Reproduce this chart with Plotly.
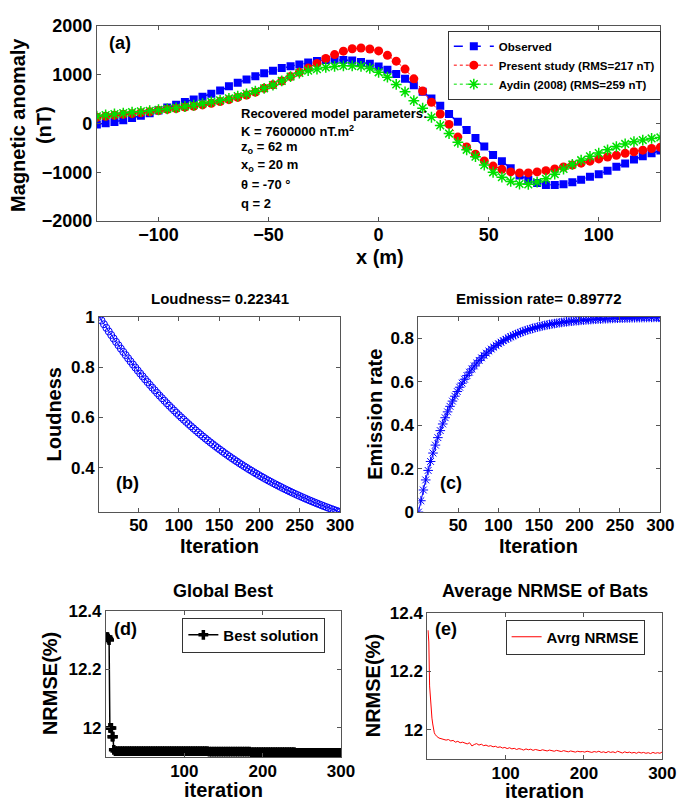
import plotly.graph_objects as go

W, H = 685, 809
FONT = "Liberation Sans, Arial, Helvetica, sans-serif"

# ---------------- Panel (a) data ----------------
x_m = list(range(-128, 129, 4))
observed = [
    -20, 5, 30, 65, 110, 160, 210, 265, 325, 385,
    440, 490, 547, 607, 673, 760, 833, 900, 967, 1027,
    1080, 1133, 1173, 1207, 1247, 1280, 1300, 1307, 1300, 1287,
    1260, 1220, 1167, 1100, 1013, 913, 780, 647, 513, 360,
    193, 33, -133, -300, -473, -647, -773, -920, -1067, -1153,
    -1220, -1260, -1260, -1247, -1207, -1153, -1093, -1040, -967, -887,
    -820, -740, -673, -613, -553]
present = [
    127, 147, 167, 187, 200, 220, 240, 265, 287, 307,
    333, 353, 380, 413, 447, 487, 533, 580, 640, 720,
    790, 870, 960, 1047, 1133, 1230, 1330, 1410, 1480, 1530,
    1545, 1525, 1485, 1395, 1275, 1113, 913, 665, 433, 193,
    -20, -280, -480, -630, -767, -873, -940, -993, -1013, -1013,
    -993, -967, -933, -893, -853, -813, -773, -727, -687, -653,
    -613, -580, -547, -513, -487]
aydin = [
    147, 173, 193, 213, 233, 247, 260, 280, 300, 320,
    347, 373, 407, 440, 473, 513, 560, 607, 660, 720,
    787, 870, 960, 1033, 1080, 1113, 1147, 1167, 1180, 1180,
    1167, 1127, 1047, 947, 800, 647, 467, 313, 127, -40,
    -207, -387, -540, -680, -853, -1000, -1100, -1187, -1240, -1247,
    -1200, -1133, -1040, -933, -840, -753, -673, -607, -540, -473,
    -420, -373, -340, -307, -287]

# ---------------- Panels (b),(c) data ----------------
it_bc = list(range(1, 299, 3)) + [300]
loudness = [
    1.0000, 0.9851, 0.9704, 0.9559, 0.9416, 0.9276, 0.9137, 0.9001, 0.8867, 0.8734,
    0.8604, 0.8475, 0.8349, 0.8224, 0.8102, 0.7981, 0.7862, 0.7744, 0.7629, 0.7515,
    0.7403, 0.7292, 0.7183, 0.7076, 0.6970, 0.6866, 0.6764, 0.6663, 0.6563, 0.6465,
    0.6369, 0.6274, 0.6180, 0.6088, 0.5997, 0.5908, 0.5820, 0.5733, 0.5647, 0.5563,
    0.5480, 0.5398, 0.5318, 0.5238, 0.5160, 0.5083, 0.5007, 0.4933, 0.4859, 0.4786,
    0.4715, 0.4645, 0.4575, 0.4507, 0.4440, 0.4373, 0.4308, 0.4244, 0.4180, 0.4118,
    0.4057, 0.3996, 0.3936, 0.3878, 0.3820, 0.3763, 0.3707, 0.3651, 0.3597, 0.3543,
    0.3490, 0.3438, 0.3387, 0.3336, 0.3287, 0.3238, 0.3189, 0.3142, 0.3095, 0.3049,
    0.3003, 0.2958, 0.2914, 0.2871, 0.2828, 0.2786, 0.2744, 0.2703, 0.2663, 0.2623,
    0.2584, 0.2545, 0.2507, 0.2470, 0.2433, 0.2397, 0.2361, 0.2326, 0.2291, 0.2257,
    0.2234]
emission = [
    0.0000, 0.0524, 0.1018, 0.1482, 0.1920, 0.2333, 0.2721, 0.3087, 0.3431, 0.3755,
    0.4061, 0.4348, 0.4619, 0.4874, 0.5115, 0.5341, 0.5554, 0.5755, 0.5944, 0.6122,
    0.6289, 0.6447, 0.6596, 0.6736, 0.6868, 0.6992, 0.7109, 0.7219, 0.7323, 0.7420,
    0.7512, 0.7599, 0.7681, 0.7757, 0.7830, 0.7898, 0.7962, 0.8023, 0.8079, 0.8133,
    0.8184, 0.8231, 0.8276, 0.8318, 0.8358, 0.8395, 0.8430, 0.8463, 0.8495, 0.8524,
    0.8552, 0.8578, 0.8602, 0.8626, 0.8647, 0.8668, 0.8687, 0.8705, 0.8723, 0.8739,
    0.8754, 0.8769, 0.8782, 0.8795, 0.8807, 0.8818, 0.8828, 0.8838, 0.8848, 0.8857,
    0.8865, 0.8873, 0.8880, 0.8887, 0.8894, 0.8900, 0.8906, 0.8911, 0.8916, 0.8921,
    0.8926, 0.8930, 0.8934, 0.8938, 0.8942, 0.8945, 0.8948, 0.8951, 0.8954, 0.8957,
    0.8959, 0.8962, 0.8964, 0.8966, 0.8968, 0.8970, 0.8972, 0.8973, 0.8975, 0.8976,
    0.8977]

# ---------------- Panels (d),(e) data ----------------
it_de = [1, 2, 3, 4, 5, 6, 7, 8, 9, 10] + list(range(12, 301, 3))
best = [
    12.31, 12.31, 12.305, 12.30, 12.00, 12.00, 12.00, 11.97, 11.97, 11.925,
    11.921, 11.921, 11.921, 11.921, 11.921, 11.921, 11.921, 11.921, 11.921, 11.921,
    11.921, 11.921, 11.921, 11.921, 11.921, 11.921, 11.921, 11.921, 11.921, 11.921,
    11.921, 11.921, 11.921, 11.921, 11.921, 11.921, 11.921, 11.921, 11.921, 11.921,
    11.921, 11.921, 11.921, 11.921, 11.921, 11.921, 11.921, 11.921, 11.921, 11.921,
    11.919, 11.919, 11.919, 11.919, 11.919, 11.919, 11.919, 11.919, 11.919, 11.919,
    11.919, 11.919, 11.919, 11.919, 11.919, 11.919, 11.919, 11.919, 11.917, 11.917,
    11.917, 11.917, 11.917, 11.917, 11.917, 11.917, 11.917, 11.917, 11.917, 11.917,
    11.917, 11.917, 11.917, 11.917, 11.917, 11.917, 11.917, 11.915, 11.915, 11.915,
    11.915, 11.915, 11.915, 11.915, 11.915, 11.915, 11.915, 11.915, 11.915, 11.915,
    11.915, 11.915, 11.915, 11.915, 11.915, 11.915, 11.915]
avg_nrmse = [
    12.34, 12.30, 12.15, 12.10, 12.07, 12.04, 12.02, 12.00, 11.99, 11.985,
    11.978, 11.972, 11.970, 11.968, 11.965, 11.967, 11.962, 11.964, 11.958, 11.961,
    11.956, 11.958, 11.955, 11.952, 11.956, 11.945, 11.950, 11.953, 11.948, 11.951,
    11.946, 11.948, 11.944, 11.946, 11.942, 11.944, 11.940, 11.942, 11.938, 11.940,
    11.936, 11.939, 11.935, 11.937, 11.933, 11.936, 11.934, 11.931, 11.935, 11.932,
    11.934, 11.930, 11.933, 11.931, 11.929, 11.932, 11.930, 11.928, 11.931, 11.929,
    11.927, 11.930, 11.928, 11.926, 11.929, 11.927, 11.925, 11.928, 11.926, 11.924,
    11.927, 11.925, 11.926, 11.924, 11.927, 11.925, 11.923, 11.926, 11.924, 11.927,
    11.923, 11.925, 11.922, 11.926, 11.923, 11.925, 11.922, 11.927, 11.923, 11.921,
    11.925, 11.922, 11.924, 11.921, 11.923, 11.920, 11.924, 11.921, 11.923, 11.920,
    11.922, 11.919, 11.923, 11.920, 11.922, 11.920, 11.925]

# ---------------- helpers ----------------
def xd(a, b):
    return [a / W, b / W]

def yd(top, bot):
    return [1 - bot / H, 1 - top / H]

def px(x):
    return x / W

def py(y):
    return 1 - y / H

BOX = '#555555'

def axis(domain, rng, tickvals, anchor, size=17, ticktext=None, standoff=0):
    d = dict(domain=domain, range=rng, tickvals=tickvals, anchor=anchor,
             showline=True, linecolor=BOX, linewidth=1, mirror='ticks',
             ticks='inside', ticklen=4, tickcolor=BOX, showgrid=False,
             zeroline=False, ticklabelstandoff=standoff,
             tickfont=dict(family=FONT, size=size, color='black', weight='bold'))
    if ticktext is not None:
        d['ticktext'] = ticktext
    return d

fig = go.Figure()

# panel (a)
fig.add_trace(go.Scatter(x=x_m, y=observed, mode='lines+markers', name='Observed',
                         line=dict(color='#0000ff', width=1.5, dash='dash'),
                         marker=dict(symbol='square', size=8, color='#0000ff'),
                         xaxis='x', yaxis='y', legend='legend'))
fig.add_trace(go.Scatter(x=x_m, y=present, mode='lines+markers',
                         name='Present study (RMS=217 nT)',
                         line=dict(color='#ff0000', width=1, dash='dot'),
                         marker=dict(symbol='circle', size=9, color='#ff0000'),
                         xaxis='x', yaxis='y', legend='legend'))
fig.add_trace(go.Scatter(x=x_m, y=aydin, mode='lines+markers',
                         name='Aydin (2008) (RMS=259 nT)',
                         line=dict(color='#00e000', width=1, dash='dot'),
                         marker=dict(symbol='asterisk-open', size=9, color='#00e000',
                                     line=dict(color='#00e000', width=1.5)),
                         xaxis='x', yaxis='y', legend='legend'))

# panel (b)
fig.add_trace(go.Scatter(x=it_bc, y=loudness, mode='lines+markers', showlegend=False,
                         line=dict(color='#0000ff', width=1),
                         marker=dict(symbol='circle-open', size=7, color='#0000ff',
                                     line=dict(color='#0000ff', width=1)),
                         xaxis='x2', yaxis='y2'))
# panel (c)
sym_c = ['asterisk-open'] * (len(emission) - 1) + ['circle-open']
fig.add_trace(go.Scatter(x=it_bc, y=emission, mode='lines+markers', showlegend=False,
                         line=dict(color='#0000ff', width=1),
                         marker=dict(symbol=sym_c, size=8, color='#0000ff',
                                     line=dict(color='#0000ff', width=1)),
                         xaxis='x3', yaxis='y3'))
# panel (d)
fig.add_trace(go.Scatter(x=it_de, y=best, mode='lines+markers', name='Best solution',
                         line=dict(color='black', width=1.5),
                         marker=dict(symbol='cross-thin-open', size=7, color='black',
                                     line=dict(color='black', width=3.5)),
                         xaxis='x4', yaxis='y4', legend='legend2'))
# panel (e)
fig.add_trace(go.Scatter(x=it_de, y=avg_nrmse, mode='lines', name='Avrg NRMSE',
                         line=dict(color='#ff0000', width=1),
                         xaxis='x5', yaxis='y5', legend='legend3'))

fig.update_layout(
    width=W, height=H, autosize=False,
    margin=dict(l=0, r=0, t=0, b=0),
    paper_bgcolor='white', plot_bgcolor='white',
    font=dict(family=FONT, color='black'),
    xaxis=axis(xd(90.7, 666), [-128, 128], [-100, -50, 0, 50, 100], 'y', size=18,
               standoff=-3),
    yaxis=axis(yd(9, 209), [-2000, 2000], [-2000, -1000, 0, 1000, 2000], 'x', size=18),
    xaxis2=axis(xd(93, 339), [1, 300], [50, 100, 150, 200, 250, 300], 'y2', standoff=-2),
    yaxis2=axis(yd(307, 507), [0.2234, 1], [0.4, 0.6, 0.8, 1], 'x2',
                ticktext=['0.4', '0.6', '0.8', '1']),
    xaxis3=axis(xd(419, 666), [1, 300], [50, 100, 150, 200, 250, 300], 'y3', standoff=-2),
    yaxis3=axis(yd(307, 507), [0, 0.9], [0, 0.2, 0.4, 0.6, 0.8], 'x3',
                ticktext=['0', '0.2', '0.4', '0.6', '0.8']),
    xaxis4=axis(xd(100, 340), [0, 300], [100, 200, 300], 'y4', standoff=-2),
    yaxis4=axis(yd(608, 758), [11.9, 12.4], [12, 12.2, 12.4], 'x4',
                ticktext=['12', '12.2', '12.4']),
    xaxis5=axis(xd(428, 668), [0, 300], [100, 200, 300], 'y5', standoff=-2),
    yaxis5=axis(yd(610, 760), [11.9, 12.4], [12, 12.2, 12.4], 'x5',
                ticktext=['12', '12.2', '12.4']),
    legend=dict(x=px(449), y=py(14), xanchor='left', yanchor='top',
                bgcolor='white', bordercolor='#333333', borderwidth=1,
                tracegroupgap=0, itemwidth=40,
                font=dict(family=FONT, size=11.5, color='black', weight='bold')),
    legend2=dict(x=px(178), y=py(615), xanchor='left', yanchor='top',
                 bgcolor='white', bordercolor='#333333', borderwidth=1,
                 font=dict(family=FONT, size=15, color='black', weight='bold')),
    legend3=dict(x=px(508), y=py(617), xanchor='left', yanchor='top',
                 bgcolor='white', bordercolor='#333333', borderwidth=1,
                 font=dict(family=FONT, size=15, color='black', weight='bold')),
)

ann = []

def label(text, x, y, size, angle=0, xanchor='center', yanchor='middle'):
    ann.append(dict(text=text, x=px(x), y=py(y), xref='paper', yref='paper',
                    showarrow=False, textangle=angle, xanchor=xanchor,
                    yanchor=yanchor,
                    font=dict(family=FONT, size=size, color='black', weight='bold')))

# axis titles
label('Magnetic anomaly<br>(nT)', 24, 111, 20, angle=-90)
label('x (m)', 380, 246, 20)
label('Loudness', 47, 407, 20, angle=-90)
label('Emission rate', 375, 407, 20, angle=-90)
label('Iteration', 216, 542, 20)
label('Iteration', 542, 542, 20)
label('NRMSE(%)', 43, 683, 20, angle=-90)
label('NRMSE(%)', 373, 685, 20, angle=-90)
label('iteration', 220, 792, 20)
label('iteration', 548, 793, 20)

# titles
label('Loudness= 0.22341', 216, 288, 15)
label('Emission rate= 0.89772', 542, 288, 15)
label('Global Best', 219, 588, 18)
label('Average NRMSE of Bats', 548, 588, 18)

# panel tags
label('(a)', 114, 27, 18)
label('(b)', 122, 477, 18)
label('(c)', 452, 477, 18)
label('(d)', 120, 627, 18)
label('(e)', 447, 627, 18)

# recovered parameters text
label('Recovered model parameters:', 236, 99, 13, xanchor='left')
label('K = 7600000 nT.m<sup>2</sup>', 236, 117, 13, xanchor='left')
label('z<sub>o</sub> = 62 m', 236, 134, 13, xanchor='left')
label('x<sub>o</sub> = 20 m', 236, 152, 13, xanchor='left')
label('\u03b8 = -70 \u00b0', 236, 172, 13, xanchor='left')
label('q = 2', 236, 191, 13, xanchor='left')

fig.update_layout(annotations=ann)

fig.write_html("out.html")
